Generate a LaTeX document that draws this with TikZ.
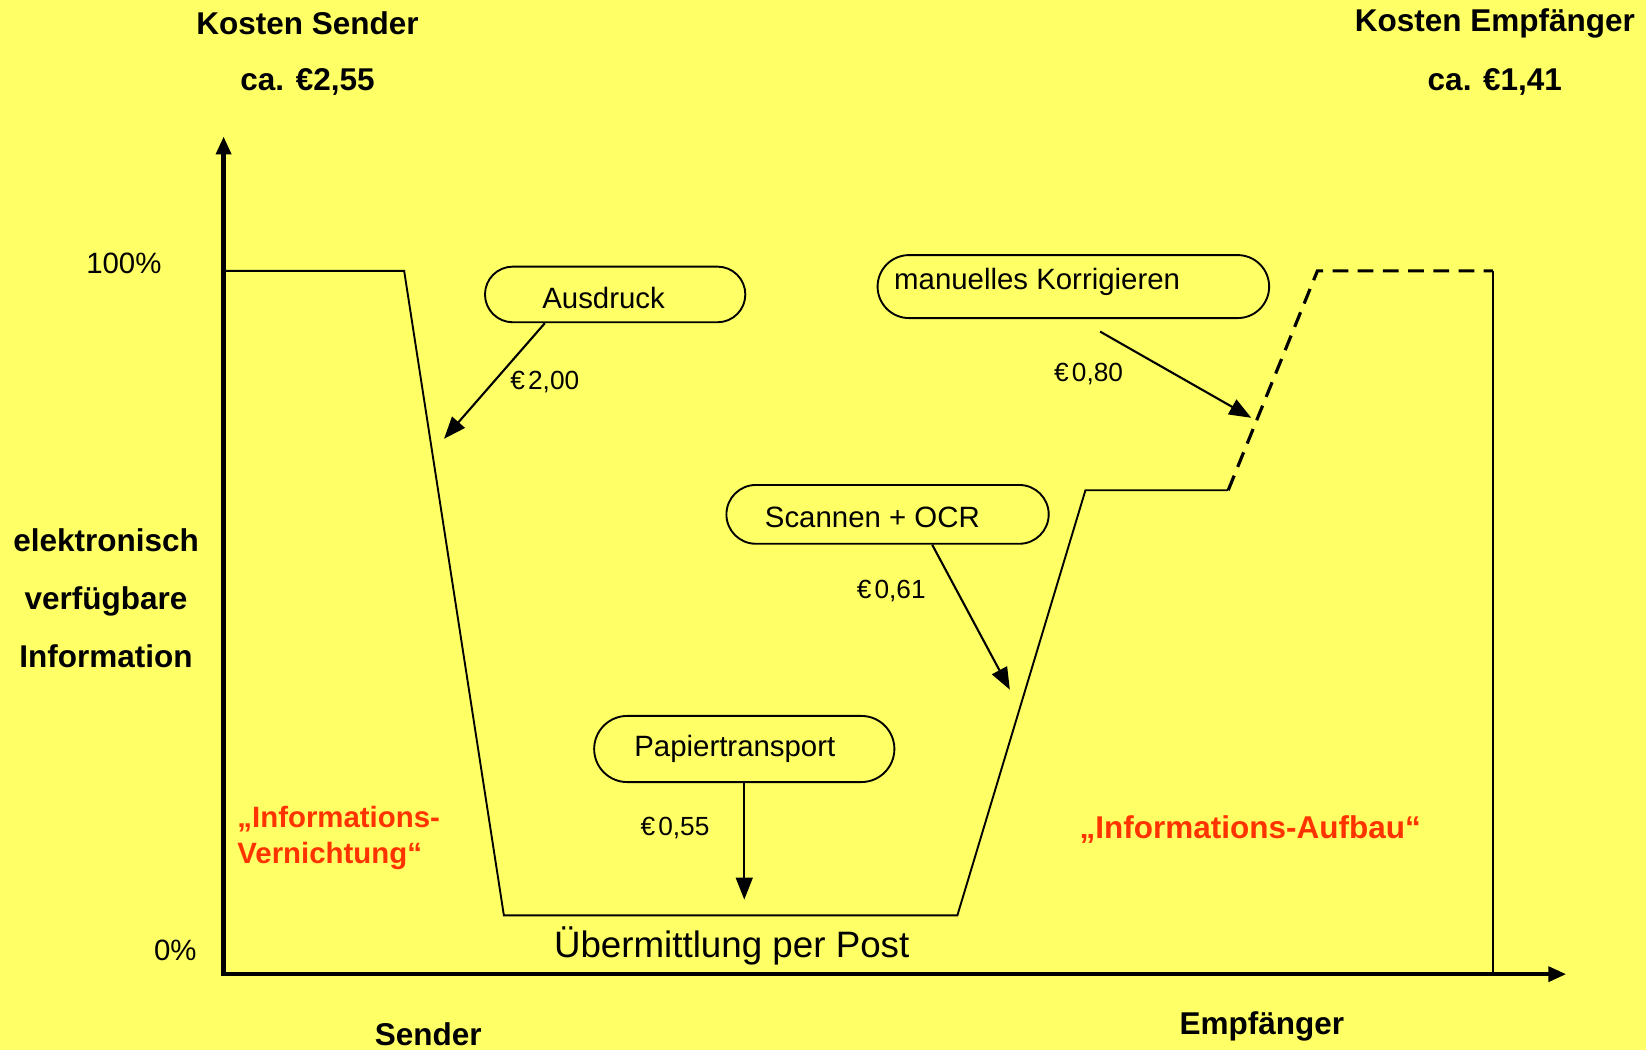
\documentclass[tikz,border=0pt]{standalone}
\usepackage{fontspec}
\setmainfont{Liberation Sans}
\usetikzlibrary{arrows.meta,calc,shapes.misc}
\definecolor{bgyellow}{HTML}{FFFF66}
\definecolor{redtext}{HTML}{FF3300}
\tikzset{
  oval/.style={draw, line width=1.8pt, rounded rectangle, rounded rectangle arc length=180, inner sep=0pt},
  curve/.style={line width=1.8pt, line join=miter},
  dashcurve/.style={line width=3pt, dash pattern=on 15pt off 9pt},
  axis/.style={line width=4pt, -{Triangle[length=17pt,width=14pt]}},
  costarrow/.style={line width=2pt, -{Triangle[length=21pt,width=16pt]}},
  bigbold/.style={font=\fontsize{30}{36}\selectfont\bfseries, inner sep=0pt},
  boxtext/.style={font=\fontsize{28}{34}\selectfont, inner sep=0pt},
  costlabel/.style={font=\fontsize{25}{30}\selectfont, inner sep=0pt},
  redlabel/.style={font=\fontsize{28}{34}\selectfont\bfseries, text=redtext, inner sep=0pt},
}
\begin{document}
\begin{tikzpicture}[x=1pt,y=-1pt]
\useasboundingbox (0,0) rectangle (1568,1000);
\fill[bgyellow] (0,0) rectangle (1568,1000);

% header texts
\node[bigbold] (ks) at (293,22) {Kosten Sender};
\node[bigbold] (ksv) at (293,78) {ca. €2,55};
\node[bigbold] (ke) at (1424,22) {Kosten Empfänger};
\node[bigbold] (kev) at (1424,78) {ca. €1,41};

% axes
\coordinate (orig) at (213,928);
\coordinate (ytop) at (213,130);
\coordinate (xend) at (1492,928);
\coordinate (ybot) at (213,930);
\draw[axis] (ybot) -- (ytop);
\draw[axis] (orig) -- (xend);

\node[boxtext] (p100) at (118,251) {100\%};
\node[boxtext] (p0) at (167,905) {0\%};
\node[bigbold, align=center, font=\fontsize{30}{55}\selectfont\bfseries] (ylab) at (101,570) {elektronisch\\verfügbare\\Information};

% curve
\coordinate (c1) at (215,258);
\coordinate (c2) at (385,258);
\coordinate (c3) at (480,872);
\coordinate (c4) at (912,872);
\coordinate (c5) at (1034,467);
\coordinate (c6) at (1170,467);
\coordinate (c7) at (1255,258);
\coordinate (c8) at (1422,258);
\coordinate (c9) at (1422,928);
\draw[curve] (c1) -- (c2) -- (c3) -- (c4) -- (c5) -- (c6);
\draw[dashcurve] (c6) -- (c7) -- (c8);
\draw[curve] (c8) -- (c9);

% ovals
\node[oval, minimum width=248pt, minimum height=53pt] (aus) at (586,280.5) {};
\node[boxtext] (aust) at (575,284) {Ausdruck};
\node[oval, minimum width=373pt, minimum height=60pt] (kor) at (1022.5,273) {};
\node[boxtext] (kort) at (988,269) {manuelles Korrigieren};
\node[oval, minimum width=307pt, minimum height=56pt] (scan) at (845.5,490) {};
\node[boxtext] (scant) at (831,493) {Scannen + OCR};
\node[oval, minimum width=286pt, minimum height=63pt] (pap) at (709,713.5) {};
\node[boxtext] (papt) at (700,713) {Papiertransport};

% cost arrows
\coordinate (t1) at (423,418);
\coordinate (t2) at (1192,398);
\coordinate (t3) at (962,657);
\coordinate (t4) at (709,857);
\draw[costarrow] ($(aus.south)+(-67,0)$) -- (t1);
\draw[costarrow] ($(kor.south)+(25.5,12)$) -- (t2);
\draw[costarrow] ($(scan.south)+(42.5,0)$) -- (t3);
\draw[costarrow] (pap.south) -- (t4);

\node[costlabel] (l1) at (519,364) {€\hspace{3pt}2,00};
\node[costlabel] (l2) at (1037,356) {€\hspace{3pt}0,80};
\node[costlabel] (l3) at (849,563) {€\hspace{3pt}0,61};
\node[costlabel] (l4) at (643,789) {€\hspace{3pt}0,55};

% red labels
\node[redlabel, align=left, anchor=west] (rv) at (226,798) {„Informations-\\Vernichtung“};
\node[redlabel, font=\fontsize{30}{34}\selectfont\bfseries] (ra) at (1191,790) {„Informations-Aufbau“};

% bottom texts
\node[inner sep=0pt, font=\fontsize{35}{40}\selectfont] (post) at (697,901) {Übermittlung per Post};
\node[bigbold] (snd) at (408,985) {Sender};
\node[bigbold] (emp) at (1202,978) {Empfänger};
\end{tikzpicture}
\end{document}
